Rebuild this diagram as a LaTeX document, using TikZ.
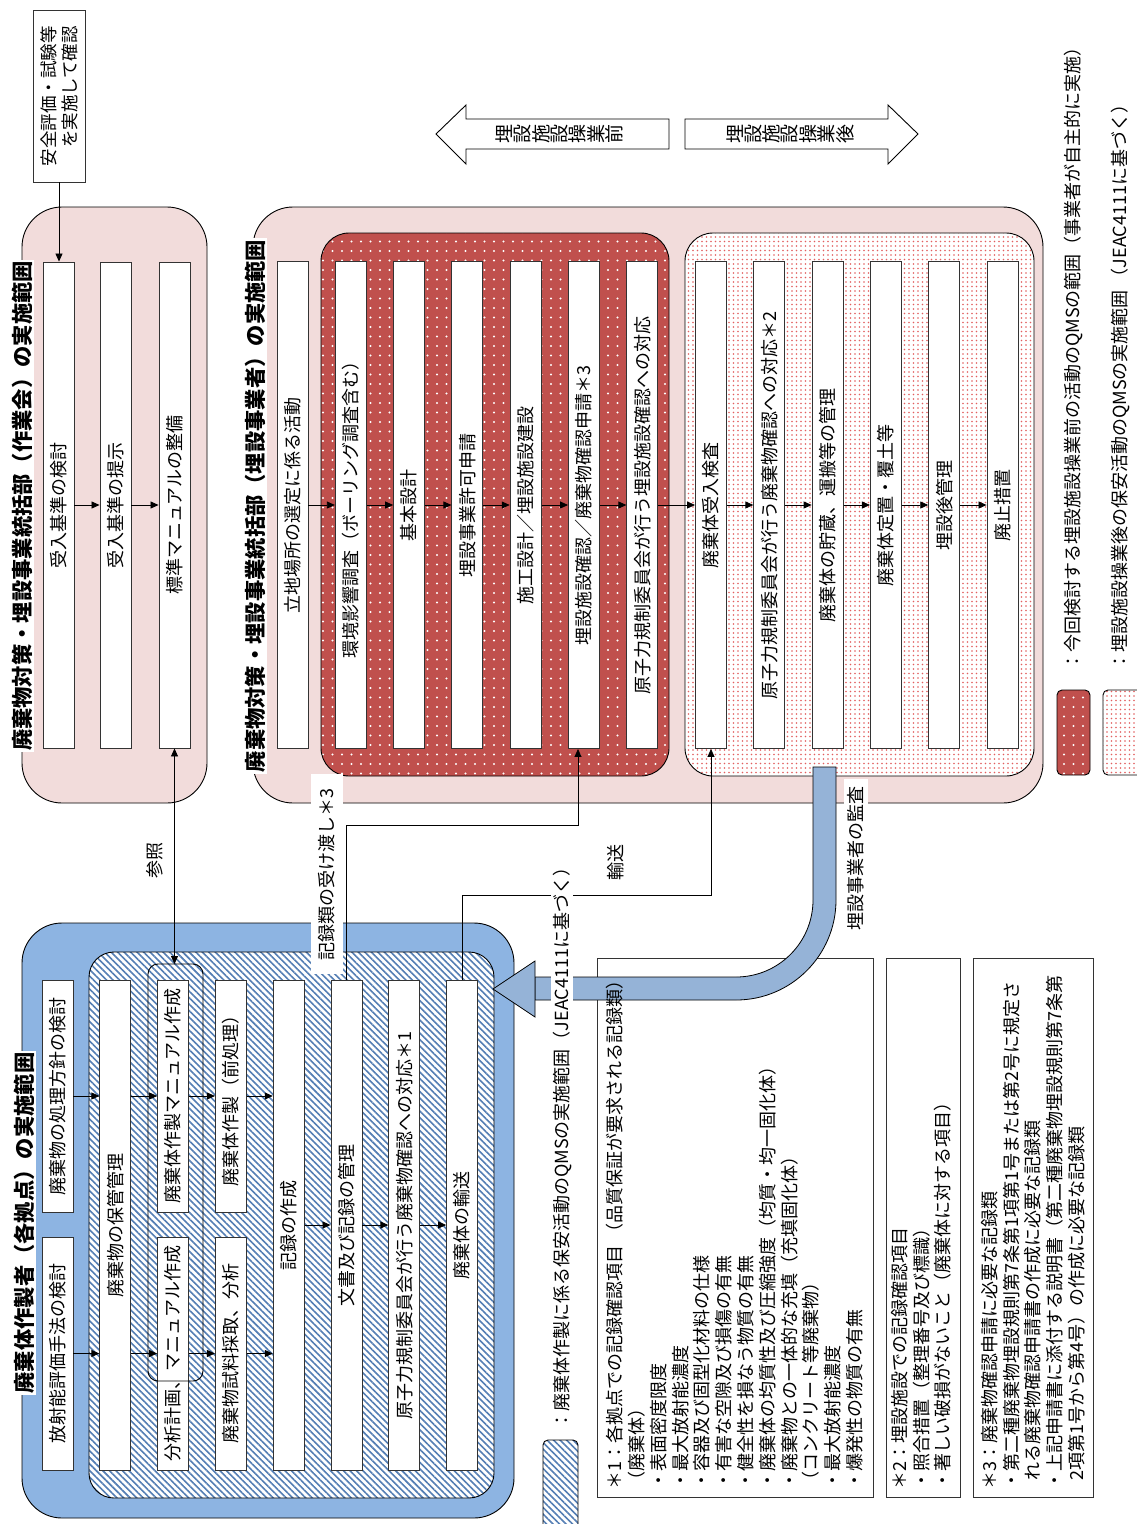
\documentclass[tikz,border=0pt]{standalone}
\usepackage{fontspec}
\setmainfont{Noto Sans CJK JP}
\usetikzlibrary{arrows.meta,patterns.meta}
\definecolor{pinkbg}{RGB}{242,220,219}
\definecolor{darkred}{RGB}{192,80,77}
\definecolor{dotred}{RGB}{226,96,96}
\definecolor{bluebg}{RGB}{141,180,226}
\definecolor{bandblue}{RGB}{149,179,215}
\definecolor{hatchblue}{RGB}{84,126,180}
\newcommand{\fsz}{\fontsize{18}{21.8}\selectfont}
\newcommand{\ftl}{\fontsize{21.3}{24}\selectfont\bfseries}
\newcommand{\fvt}{\fontsize{19}{19}\selectfont}
\begin{document}
\begin{tikzpicture}[x=1pt,y=-1pt,
  wbox/.style={draw=black!80, fill=white, line width=0.9pt, rotate=90, inner sep=0pt, font=\fsz, minimum height=31pt},
  lbl/.style={rotate=90, inner sep=1pt, font=\fsz},
  ttl/.style={rotate=90, fill=white, inner sep=1.5pt, font=\ftl},
  vch/.style={rotate=90, inner sep=0pt, font=\fvt},
  arr/.style={-{Triangle[length=8pt,width=7pt]}, line width=0.8pt},
  arrs/.style={{Triangle[length=8pt,width=7pt]}-{Triangle[length=8pt,width=7pt]}, line width=0.8pt},
  frame/.style={draw=black, line width=0.9pt},
  note/.style={rotate=90, anchor=north west, align=left, inner sep=0pt, font=\fsz},
]
\path[use as bounding box] (0,0) rectangle (1136,1524);
\fill[white] (0,0) rectangle (1136,1524);

% ---------- group 1 (作業会)
\draw[frame, fill=pinkbg, rounded corners=40pt] (22,207) rectangle (207,803);
\node[ttl] (t1) at (22,506) {廃棄物対策・埋設事業統括部（作業会）の実施範囲};
\node[wbox, minimum width=486pt] (a1) at (58.5,505) {受入基準の検討};
\node[wbox, minimum width=486pt] (a2) at (115.5,505) {受入基準の提示};
\node[wbox, minimum width=486pt] (a3) at (174.5,505) {標準マニュアルの整備};
\draw[arr] (a1.south) -- (a2.north);
\draw[arr] (a2.south) -- (a3.north);
\node[draw=black!80, fill=white, line width=0.9pt, rotate=90, minimum width=172pt, minimum height=52pt, inner sep=0pt, align=right, font=\fontsize{17.5}{21}\selectfont] (safe) at (59,96) {安全評価・試験等\\を実施して確認};
\draw[arr] (safe.west) -- (safe.west |- a1.east);

% ---------- group 2 (埋設事業者)
\draw[frame, fill=pinkbg, rounded corners=40pt] (253,207) rectangle (1043,803);
\fill[darkred, rounded corners=28pt] (321,233) rectangle (669,776);
\path[pattern={Dots[radius=1.1pt,distance=9.5pt]}, pattern color=white, rounded corners=28pt] (321,233) rectangle (669,776);
\draw[frame, rounded corners=28pt] (321,233) rectangle (669,776);
\fill[white, rounded corners=28pt] (685,233) rectangle (1034,776);
\path[pattern={Dots[radius=0.85pt,distance=4.5pt]}, pattern color=dotred, rounded corners=28pt] (685,233) rectangle (1034,776);
\draw[frame, rounded corners=28pt] (685,233) rectangle (1034,776);
\node[ttl] (t2) at (255,506) {廃棄物対策・埋設事業統括部（埋設事業者）の実施範囲};

\node[wbox, minimum width=487pt] (n1) at (292.5,505) {立地場所の選定に係る活動};
\node[wbox, minimum width=487pt] (n2) at (350.8,505) {環境影響調査（ボーリング調査含む）};
\node[wbox, minimum width=487pt] (n3) at (409.1,505) {基本設計};
\node[wbox, minimum width=487pt] (n4) at (467.4,505) {埋設事業許可申請};
\node[wbox, minimum width=487pt] (n5) at (525.7,505) {施工設計／埋設施設建設};
\node[wbox, minimum width=487pt] (n6) at (584.0,505) {埋設施設確認／廃棄物確認申請＊3};
\node[wbox, minimum width=487pt] (n7) at (642.3,505) {原子力規制委員会が行う埋設施設確認への対応};
\node[wbox, minimum width=487pt] (n8) at (711.0,505) {廃棄体受入検査};
\node[wbox, minimum width=487pt] (n9) at (769.3,505) {原子力規制委員会が行う廃棄物確認への対応＊2};
\node[wbox, minimum width=487pt] (n10) at (827.6,505) {廃棄体の貯蔵、運搬等の管理};
\node[wbox, minimum width=487pt] (n11) at (885.9,505) {廃棄体定置・覆土等};
\node[wbox, minimum width=487pt] (n12) at (944.2,505) {埋設後管理};
\node[wbox, minimum width=487pt] (n13) at (1002.5,505) {廃止措置};
\foreach \p/\q in {n1/n2,n2/n3,n3/n4,n4/n5,n5/n6,n6/n7,n7/n8,n8/n9,n9/n10,n10/n11,n11/n12,n12/n13}
  \draw[arr] (\p.south) -- (\q.north);

% ---------- header arrows
\draw[line width=0.9pt, fill=white] (436,134) -- (466,105) -- (466,119) -- (669,119) -- (669,149) -- (466,149) -- (466,164) -- cycle;
\foreach \c [count=\i] in {埋,設,施,設,操,業,前}
  \node[vch] (pre\i) at (504.5+\i*18.3-18.3,134) {\c};
\draw[line width=0.9pt, fill=white] (685,119) -- (888,119) -- (888,105) -- (918,134) -- (888,164) -- (888,149) -- (685,149) -- cycle;
\foreach \c [count=\i] in {埋,設,施,設,操,業,後}
  \node[vch] (post\i) at (735+\i*18.3-18.3,134) {\c};

% ---------- right legend
\fill[darkred, rounded corners=5pt] (1057,690) rectangle (1090,775);
\path[pattern={Dots[radius=1.1pt,distance=9.5pt]}, pattern color=white, rounded corners=5pt] (1057,690) rectangle (1090,775);
\draw[line width=0.9pt, rounded corners=5pt] (1057,690) rectangle (1090,775);
\fill[white, rounded corners=5pt] (1103,690) rectangle (1142,775);
\path[pattern={Dots[radius=0.85pt,distance=4.5pt]}, pattern color=dotred, rounded corners=5pt] (1103,690) rectangle (1142,775);
\draw[line width=0.9pt, rounded corners=5pt] (1103,690) rectangle (1142,775);
\node[lbl, anchor=west] (lg1) at (1073,672) {：今回検討する埋設施設操業前の活動のQMSの範囲（事業者が自主的に実施）};
\node[lbl, anchor=west] (lg2) at (1120,672) {：埋設施設操業後の保安活動のQMSの実施範囲 （JEAC4111に基づく）};

% ---------- group 3 (廃棄体作製者)
\draw[frame, fill=bluebg, rounded corners=40pt] (22,923) rectangle (514,1518);
\fill[white, rounded corners=25pt] (89,952) rectangle (494,1498);
\path[pattern={Lines[angle=-45,distance=4.6pt,line width=1.6pt]}, pattern color=hatchblue, rounded corners=25pt] (89,952) rectangle (494,1498);
\draw[frame, rounded corners=25pt] (89,952) rectangle (494,1498);
\node[ttl] (t3) at (24,1223) {廃棄体作製者（各拠点）の実施範囲};

\node[wbox, minimum width=232pt] (d1) at (57.5,1096) {廃棄物の処理方針の検討};
\node[wbox, minimum width=233pt] (d2) at (57.5,1353.5) {放射能評価手法の検討};
\node[wbox, minimum width=490pt] (e) at (115.3,1225) {廃棄物の保管管理};
\node[wbox, minimum width=232pt] (f1) at (173.1,1096) {廃棄体作製マニュアル作成};
\node[wbox, minimum width=233pt] (f2) at (173.1,1353.5) {分析計画、マニュアル作成};
\node[wbox, minimum width=232pt] (g1) at (230.9,1096) {廃棄体作製（前処理）};
\node[wbox, minimum width=233pt] (g2) at (230.9,1353.5) {廃棄物試料採取、分析};
\node[wbox, minimum width=490pt] (h1) at (288.7,1225) {記録の作成};
\node[wbox, minimum width=490pt] (h2) at (346.5,1225) {文書及び記録の管理};
\node[wbox, minimum width=490pt] (h3) at (404.3,1225) {原子力規制委員会が行う廃棄物確認への対応＊1};
\node[wbox, minimum width=490pt] (h4) at (462.1,1225) {廃棄体の輸送};
\draw[line width=0.9pt, rounded corners=10pt] (148,964) rectangle (203,1381);
\coordinate (grptop) at (174.5,964);

\draw[arr] (d1.south) -- (d1.south -| e.north);
\draw[arr] (e.south |- d1.south) -- (f1.north);
\draw[arr] (f1.south) -- (g1.north);
\draw[arr] (g1.south) -- (g1.south -| h1.north);
\draw[arr] (d2.south) -- (d2.south -| e.north);
\draw[arr] (e.south |- d2.south) -- (f2.north);
\draw[arr] (f2.south) -- (g2.north);
\draw[arr] (g2.south) -- (g2.south -| h1.north);
\draw[arr] (h1.south) -- (h2.north);
\draw[arr] (h2.south) -- (h3.north);
\draw[arr] (h3.south) -- (h4.north);

% ---------- connectors between groups
\draw[arrs] (a3.west) -- (a3.west |- grptop);
\node[lbl] (ref) at (155,860) {参照};
\coordinate (k1) at (578,825);
\draw[arr] (h2.east) |- (k1) -- (k1 |- n6.west);
\node[lbl, fill=white, inner xsep=14pt, inner ysep=7.5pt] (rec) at (327,874) {記録類の受け渡し＊3};
\coordinate (k2) at (711,895);
\draw[arr] (h4.east) |- (k2) -- (n8.west);
\node[lbl] (trans) at (616,862) {輸送};

% ---------- notes boxes
\draw[line width=0.9pt, draw=black!80] (597,958) rectangle (873,1497);
\draw[line width=0.9pt, draw=black!80] (886,958) rectangle (960,1497);
\draw[line width=0.9pt, draw=black!80] (973,958) rectangle (1093,1497);

% ---------- audit band
\draw[line width=0.8pt, fill=bandblue] (813,767) -- (836,767) -- (836,900) .. controls (836,955.2) and (791.2,1000) .. (736,1000) -- (535,1000) -- (535,977) -- (736,977) .. controls (778.5,977) and (813,942.5) .. (813,900) -- cycle;
\draw[line width=0.8pt, fill=bandblue] (493,989) -- (535,961) -- (535,1017) -- cycle;
\node[lbl, fill=white, inner xsep=7pt, inner ysep=4pt] (audit) at (856,858) {埋設事業者の監査};

% ---------- notes text
\node[note] (nt1) at (606,1490) {＊1：各拠点での記録確認項目 （品質保証が要求される記録類）\\（廃棄体）\\・表面密度限度\\・最大放射能濃度\\・容器及び固型化材料の仕様\\・有害な空隙及び損傷の有無\\・健全性を損なう物質の有無\\・廃棄体の均質性及び圧縮強度（均質・均一固化体）\\・廃棄物との一体的な充填（充填固化体）\\（コンクリート等廃棄物）\\・最大放射能濃度\\・爆発性の物質の有無};
\node[note] (nt2) at (891,1490) {＊2：埋設施設での記録確認項目\\・照合措置（整理番号及び標識）\\・著しい破損がないこと（廃棄体に対する項目）};
\node[note] (nt3) at (981,1490) {＊3：廃棄物確認申請に必要な記録類\\・第二種廃棄物埋設規則第7条第1項第1号または第2号に規定さ\\\hspace*{0.5em}れる廃棄物確認申請書の作成に必要な記録類\\・上記申請書に添付する説明書（第二種廃棄物埋設規則第7条第\\\hspace*{0.5em}2項第1号から第4号）の作成に必要な記録類};

% ---------- bottom legend
\fill[white, rounded corners=5pt] (543,1440) rectangle (578,1530);
\path[pattern={Lines[angle=-45,distance=4.6pt,line width=1.6pt]}, pattern color=hatchblue, rounded corners=5pt] (543,1440) rectangle (578,1530);
\draw[line width=0.9pt, rounded corners=5pt] (543,1440) rectangle (578,1530);
\node[lbl, anchor=west, fill=white, inner sep=2pt] (lg3) at (562,1432) {：廃棄体作製に係る保安活動のQMSの実施範囲（JEAC4111に基づく）};
\end{tikzpicture}
\end{document}
